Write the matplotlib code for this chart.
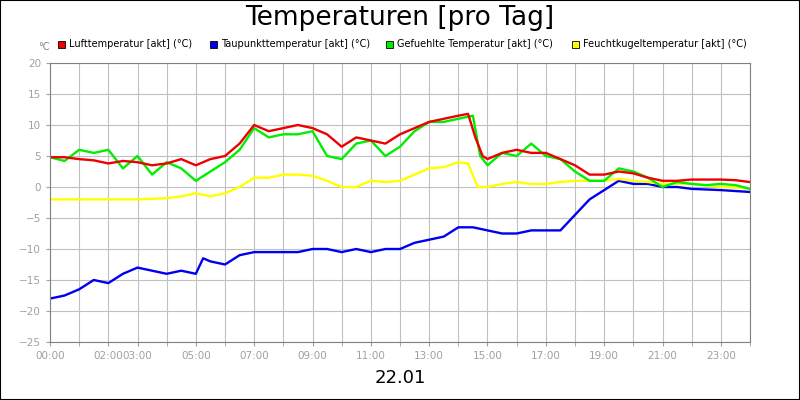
import matplotlib
matplotlib.use("Agg")
import matplotlib.pyplot as plt
from matplotlib.patches import Rectangle

h = lambda s: [int(t.split(':')[0]) + int(t.split(':')[1]) / 60 for t in s]

t_red = h(["0:00","0:30","1:00","1:30","2:00","2:30","3:00","3:30","4:00","4:30","5:00","5:30","6:00","6:30","7:00","7:30","8:00","8:30","9:00","9:30","10:00","10:30","11:00","11:30","12:00","12:30","13:00","13:30","14:00","14:20","14:35","14:50","15:00","15:30","16:00","16:30","17:00","17:30","18:00","18:30","19:00","19:30","20:00","20:30","21:00","21:30","22:00","22:30","23:00","23:30","24:00"])
luft = [4.8,4.8,4.5,4.3,3.8,4.2,4.0,3.5,3.8,4.5,3.5,4.5,5.0,7.0,10.0,9.0,9.5,10.0,9.5,8.5,6.5,8.0,7.5,7.0,8.5,9.5,10.5,11.0,11.5,11.8,8.0,5.0,4.5,5.5,6.0,5.5,5.5,4.5,3.5,2.0,2.0,2.5,2.2,1.5,1.0,1.0,1.2,1.2,1.2,1.1,0.8]

t_green = h(["0:00","0:30","1:00","1:30","2:00","2:30","3:00","3:30","4:00","4:30","5:00","5:30","6:00","6:30","7:00","7:30","8:00","8:30","9:00","9:30","10:00","10:30","11:00","11:30","12:00","12:30","13:00","13:30","14:00","14:30","14:45","15:00","15:30","16:00","16:30","17:00","17:30","18:00","18:30","19:00","19:30","20:00","20:30","21:00","21:30","22:00","22:30","23:00","23:30","24:00"])
gef = [4.8,4.2,6.0,5.5,6.0,3.0,5.0,2.0,4.0,3.0,1.0,2.5,4.0,6.0,9.5,8.0,8.5,8.5,9.0,5.0,4.5,7.0,7.5,5.0,6.5,9.0,10.5,10.5,11.0,11.5,5.0,3.5,5.5,5.0,7.0,5.0,4.5,2.5,1.0,1.0,3.0,2.5,1.5,0.0,0.8,0.5,0.3,0.5,0.3,-0.3]

t_yel = h(["0:00","1:00","2:00","3:00","4:00","4:30","5:00","5:30","6:00","6:30","7:00","7:30","8:00","8:30","9:00","9:30","10:00","10:30","11:00","11:30","12:00","12:30","13:00","13:30","14:00","14:20","14:40","15:00","15:30","16:00","16:30","17:00","17:30","18:00","18:30","19:00","19:30","20:00","20:30","21:00","22:00","23:00","24:00"])
feucht = [-2.0,-2.0,-2.0,-2.0,-1.8,-1.5,-1.0,-1.5,-1.0,0.0,1.5,1.5,2.0,2.0,1.8,1.0,0.0,0.0,1.0,0.8,1.0,2.0,3.0,3.2,4.0,3.8,0.0,0.0,0.5,0.8,0.5,0.5,0.8,1.0,1.0,1.0,1.3,1.0,0.8,0.5,0.5,0.0,-0.2]

t_blue = h(["0:00","0:30","1:00","1:30","2:00","2:30","3:00","3:30","4:00","4:30","5:00","5:15","5:30","6:00","6:30","7:00","7:30","8:00","8:30","9:00","9:30","10:00","10:30","11:00","11:30","12:00","12:30","13:00","13:30","14:00","14:30","15:00","15:30","16:00","16:30","17:00","17:30","18:00","18:30","19:00","19:30","20:00","20:30","21:00","21:30","22:00","23:00","24:00"])
taup = [-18.0,-17.5,-16.5,-15.0,-15.5,-14.0,-13.0,-13.5,-14.0,-13.5,-14.0,-11.5,-12.0,-12.5,-11.0,-10.5,-10.5,-10.5,-10.5,-10.0,-10.0,-10.5,-10.0,-10.5,-10.0,-10.0,-9.0,-8.5,-8.0,-6.5,-6.5,-7.0,-7.5,-7.5,-7.0,-7.0,-7.0,-4.5,-2.0,-0.5,1.0,0.5,0.5,0.0,0.0,-0.3,-0.5,-0.8]

xticks = [0,2,3,5,7,9,11,13,15,17,19,21,23]
xlabels = ["00:00","02:00","03:00","05:00","07:00","09:00","11:00","13:00","15:00","17:00","19:00","21:00","23:00"]
yticks = list(range(-25, 21, 5))

fig = plt.figure(figsize=(8, 4), dpi=100)
fig.patches.append(Rectangle((0, 0), 1, 1, transform=fig.transFigure, fill=False, edgecolor='black', lw=1.5))
ax = fig.add_axes([50/800, 58/400, 700/800, 279/400])
ax.set_xlim(0, 24); ax.set_ylim(-25, 20)
ax.set_xticks(range(0, 25), minor=True)
ax.set_xticks(xticks); ax.set_xticklabels(xlabels)
ax.set_yticks(yticks)
ax.grid(True, which='both', color='#c0c0c0', lw=0.8)
ax.set_axisbelow(True)
for s in ax.spines.values(): s.set_color('#808080')
ax.tick_params(colors='#a0a0a0', labelsize=7.5, length=3, which='both')

ax.plot(t_blue, taup, color='#0000ee', lw=1.7)
ax.plot(t_yel, feucht, color='#ffff00', lw=1.7)
ax.plot(t_green, gef, color='#00ee00', lw=1.7)
ax.plot(t_red, luft, color='#ee0000', lw=1.7)

fig.text(0.5, 0.955, "Temperaturen [pro Tag]", ha='center', va='center', fontsize=19)
fig.text(0.5, 0.055, "22.01", ha='center', va='center', fontsize=13)
fig.text(38/800, 353/400, "°C", fontsize=7, color='#808080', ha='left', va='center')

names = ["Lufttemperatur [akt] (°C)", "Taupunkttemperatur [akt] (°C)", "Gefuehlte Temperatur [akt] (°C)", "Feuchtkugeltemperatur [akt] (°C)"]
cols = ['#ee0000', '#0000ee', '#00ee00', '#ffff00']
xs = [58, 210, 386, 572]
for x, n, c in zip(xs, names, cols):
    fig.patches.append(Rectangle((x/800, (400-48)/400), 7/800, 7/400, transform=fig.transFigure, facecolor=c, edgecolor='black', lw=0.6))
    fig.text((x+11)/800, (400-44)/400, n, fontsize=7, va='center', ha='left')

fig.savefig("out.png", dpi=100)
